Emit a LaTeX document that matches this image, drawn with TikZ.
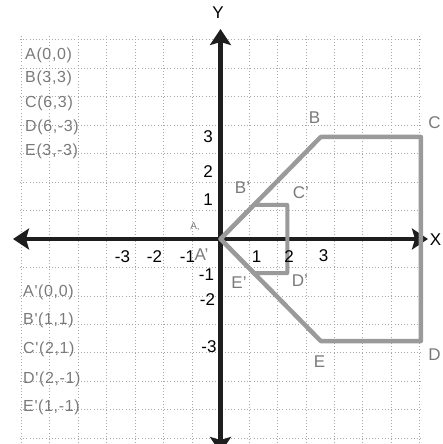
\documentclass[tikz,border=0pt]{standalone}
\usepackage{fontspec}
\setmainfont{Liberation Sans}
\newfontfamily\lblfont[LetterSpace=4]{Liberation Sans}
\usetikzlibrary{arrows.meta}
\definecolor{gridc}{HTML}{A8A8A8}
\definecolor{shapec}{HTML}{9A9A9A}
\definecolor{lblc}{HTML}{7A7A7A}
\definecolor{axisc}{HTML}{1E1E1E}
\begin{document}
\begin{tikzpicture}[x=33.4pt,y=34pt,
  gridline/.style={gridc, line width=0.7pt, dash pattern=on 0.8pt off 2.4pt},
  axisline/.style={axisc, line width=4.5pt},
  tip/.style={-{Stealth[length=16pt,width=21pt,inset=3pt]}},
  shapeline/.style={shapec, line width=4.5pt, line join=round},
  smallshape/.style={shapec, line width=4pt, line join=round},
  listlbl/.style={anchor=west, inner sep=0pt, text=lblc, font=\lblfont\fontsize{16}{16}\selectfont},
  ptlbl/.style={inner sep=0pt, text=lblc, font=\fontsize{17}{17}\selectfont},
  ticklbl/.style={inner sep=0pt, text=black, font=\fontsize{17}{17}\selectfont},
  axlbl/.style={inner sep=0pt, text=black, font=\fontsize{17}{17}\selectfont}]
\useasboundingbox (-220.5pt,-205pt) rectangle (221.5pt,239pt);
% grid
\draw[gridline] (-6,-6) grid (6,6);
% axes
\coordinate (xl) at (-207.5pt,0);
\coordinate (xr) at (207.5pt,0);
\coordinate (yt) at (0,210pt);
\coordinate (yb) at (0,-214pt);
\coordinate (O) at (0,0);
\draw[axisline,tip] (O) -- (xl);
\draw[axisline,tip] (O) -- (xr);
\draw[axisline,tip] (O) -- (yt);
\draw[axisline,tip] (O) -- (yb);
\node[axlbl] (X) at (215pt,-1pt) {X};
\node[axlbl] (Y) at (-2.5pt,226pt) {Y};
% vertices
\coordinate (A) at (0,0);
\coordinate (B) at (3,3);
\coordinate (C) at (6,3);
\coordinate (D) at (6,-3);
\coordinate (E) at (3,-3);
\coordinate (Ap) at (0,0);
\coordinate (Bp) at (1,1);
\coordinate (Cp) at (2,1);
\coordinate (Dp) at (2,-1);
\coordinate (Ep) at (1,-1);
\draw[shapeline] (A) -- (B) -- (C) -- (D) -- (E) -- cycle;
\draw[smallshape] (Ap) -- (Bp) -- (Cp) -- (Dp) -- (Ep) -- cycle;
% tick labels
\node[ticklbl] (ty3) at (-12.5pt,102pt) {3};
\node[ticklbl] (ty2) at (-12.5pt,67pt) {2};
\node[ticklbl] (ty1) at (-12.5pt,39pt) {1};
\node[ticklbl] (tym1) at (-14pt,-36pt) {-1};
\node[ticklbl] (tym2) at (-13pt,-61pt) {-2};
\node[ticklbl] (tym3) at (-11.5pt,-108pt) {-3};
\node[ticklbl] (txm3) at (-98pt,-18pt) {-3};
\node[ticklbl] (txm2) at (-66pt,-18pt) {-2};
\node[ticklbl] (txm1) at (-33pt,-18pt) {-1};
\node[ticklbl] (tx1) at (36pt,-18pt) {1};
\node[ticklbl] (tx2) at (68.5pt,-18pt) {2};
\node[ticklbl] (tx3) at (103pt,-17pt) {3};
% point labels
\node[ptlbl, font=\fontsize{10}{10}\selectfont] (lA) at (-25.5pt,12pt) {A,};
\node[ptlbl] (lAp) at (-19pt,-16pt) {A'};
\node[ptlbl] (lBp) at (22pt,51pt) {B'};
\node[ptlbl] (lCp) at (80.5pt,46pt) {C'};
\node[ptlbl] (lEp) at (18.5pt,-44pt) {E'};
\node[ptlbl] (lDp) at (79.5pt,-42pt) {D'};
\node[ptlbl] (lB) at (94pt,121pt) {B};
\node[ptlbl] (lC) at (214pt,116pt) {C};
\node[ptlbl] (lE) at (99pt,-123pt) {E};
\node[ptlbl] (lD) at (214pt,-116pt) {D};
% coordinate lists
\node[listlbl] (la) at (-195.5pt,184pt) {A(0,0)};
\node[listlbl] (lb) at (-195.5pt,161pt) {B(3,3)};
\node[listlbl] (lc) at (-195.5pt,136pt) {C(6,3)};
\node[listlbl] (ld) at (-195.5pt,112pt) {D(6,-3)};
\node[listlbl] (le) at (-195.5pt,88pt) {E(3,-3)};
\node[listlbl] (lap) at (-197.5pt,-53pt) {A'(0,0)};
\node[listlbl] (lbp) at (-197.5pt,-81pt) {B'(1,1)};
\node[listlbl] (lcp) at (-197.5pt,-110pt) {C'(2,1)};
\node[listlbl] (ldp) at (-197.5pt,-140pt) {D'(2,-1)};
\node[listlbl] (lep) at (-197.5pt,-168pt) {E'(1,-1)};
\end{tikzpicture}
\end{document}
